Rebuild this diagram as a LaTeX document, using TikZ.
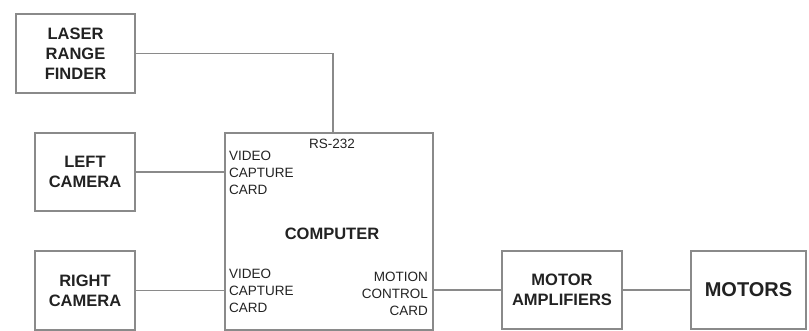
\documentclass[tikz,border=0pt]{standalone}
\usepackage{fontspec}
\setmainfont{Liberation Sans}
\definecolor{linegray}{HTML}{8A8A8A}
\definecolor{textdark}{HTML}{222222}
\begin{document}
\begin{tikzpicture}[x=1pt,y=-1pt,
  blk/.style={draw=linegray,line width=1.3pt,inner sep=0pt,align=center,text=textdark,
    font=\fontsize{16.5}{20}\selectfont\bfseries},
  wire/.style={draw=linegray,line width=1.3pt},
  small/.style={inner sep=0pt,text=textdark,font=\fontsize{13.5}{17}\selectfont}]
\useasboundingbox (0,0) rectangle (809,331);
\node[blk,minimum width=119pt,minimum height=79pt] (laser) at (75.5,53.5) {LASER\\RANGE\\FINDER};
\node[blk,minimum width=100pt,minimum height=78pt] (lcam) at (85,172) {LEFT\\CAMERA};
\node[blk,minimum width=100pt,minimum height=79pt] (rcam) at (85,290.5) {RIGHT\\CAMERA};
\node[blk,minimum width=208pt,minimum height=197pt] (comp) at (329,231.5) {};
\node[blk,minimum width=120pt,minimum height=78pt] (mamp) at (562,290) {MOTOR\\AMPLIFIERS};
\node[blk,minimum width=115pt,minimum height=78pt,font=\fontsize{20}{24}\selectfont\bfseries] (motors) at (748.5,290) {MOTORS};
% labels inside computer
\node[small,anchor=north] (rs) at (332,139) {RS-232};
\node[small,anchor=north west,align=left] (vc1) at (229,150.5) {VIDEO\\CAPTURE\\CARD};
\node[small,anchor=north west,align=left] (vc2) at (229,269) {VIDEO\\CAPTURE\\CARD};
\node[small,anchor=north east,align=right] (mc) at (428,272) {MOTION\\CONTROL\\CARD};
\node[inner sep=0pt,text=textdark,font=\fontsize{16.5}{20}\selectfont\bfseries,anchor=north] (ctitle) at (332,228) {COMPUTER};
% connectors
\coordinate (rsin) at ([xshift=4pt]comp.north);
\draw[wire] (laser.east) -| (rsin);
\draw[wire] (lcam.east) -- (lcam.east -| comp.west);
\draw[wire] (rcam.east) -- (rcam.east -| comp.west);
\draw[wire] (mamp.west -| comp.east) -- (mamp.west);
\draw[wire] (mamp.east) -- (motors.west);
\end{tikzpicture}
\end{document}
